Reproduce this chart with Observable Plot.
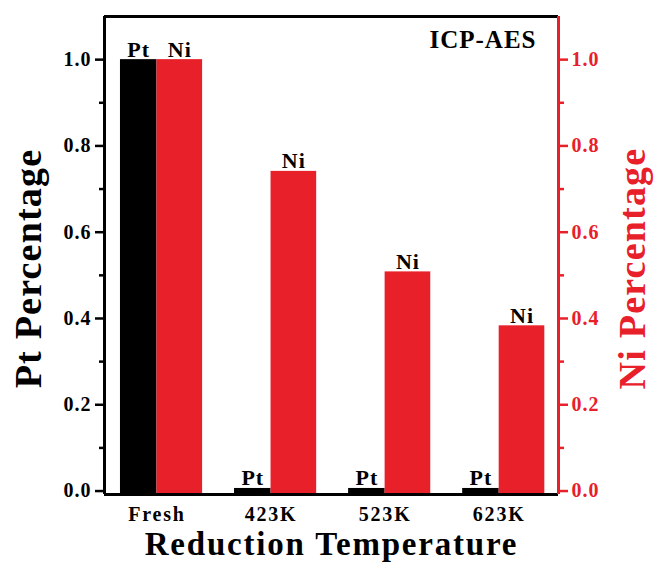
<!DOCTYPE html>
<html>
<head>
<meta charset="utf-8">
<script src="https://cdn.jsdelivr.net/npm/d3@7"></script>
<script src="https://cdn.jsdelivr.net/npm/@observablehq/plot@0.6"></script>
<style>
  html, body { margin: 0; padding: 0; background: #fff; }
  g[aria-label="y-axis tick label"] text { letter-spacing: 1px; }
  g[aria-label="x-axis tick label"] text { letter-spacing: 1.8px; }
  text[aria-label="bar labels"] { letter-spacing: 1px; }
  text[aria-label="axis titles"] { letter-spacing: 1.2px; }
  text[aria-label="x title"] { letter-spacing: 1.8px; }
  text[aria-label="note"] { letter-spacing: 1px; }
</style>
</head>
<body>
<div id="chart"></div>
<script>
// ---- data ----
const categories = ["Fresh", "423K", "523K", "623K"];
const ptValues = [1.0, 0.006, 0.006, 0.006];
const niValues = [1.0, 0.741, 0.508, 0.383];
const majorTicks = [0, 0.2, 0.4, 0.6, 0.8, 1.0];
const minorTicks = [0.1, 0.3, 0.5, 0.7, 0.9];
const seriesLabels = ["Pt", "Ni"];
const leftTitle = "Pt Percentage";
const rightTitle = "Ni Percentage";
const xTitle = "Reduction Temperature";
const note = "ICP-AES";

// ---- styling ----
const red = "#e8202a";
const font = "'Liberation Serif', 'Times New Roman', serif";
const xDomain = [0.54, 4.52];
const yDomain = [-0.008, 1.1];

const rows = categories.map((c, i) => ({cat: c, pos: i + 1, pt: ptValues[i], ni: niValues[i]}));

const chart = Plot.plot({
  width: 654,
  height: 567,
  marginLeft: 104,
  marginRight: 96,
  marginTop: 16,
  marginBottom: 73,
  style: {fontFamily: font, fontWeight: "bold", background: "#fff", color: "#000"},
  x: {type: "linear", domain: xDomain, axis: null},
  y: {domain: yDomain, axis: null},
  marks: [
    // bars
    Plot.rectY(rows, {x1: d => d.pos - 0.32, x2: d => d.pos, y1: yDomain[0], y2: "pt", fill: "#000"}),
    Plot.rectY(rows, {x1: d => d.pos, x2: d => d.pos + 0.40, y1: yDomain[0], y2: "ni", fill: red}),
    // bar labels
    Plot.text(rows, {x: d => d.pos - 0.16, y: "pt", text: () => seriesLabels[0], lineAnchor: "bottom", dy: -3, fontSize: 22, fill: "#000", ariaLabel: () => "bar labels"}),
    Plot.text(rows, {x: d => d.pos + 0.20, y: "ni", text: () => seriesLabels[1], lineAnchor: "bottom", dy: -3, fontSize: 22, fill: "#000", ariaLabel: () => "bar labels"}),
    // left axis
    Plot.axisY({ticks: majorTicks, tickSize: 9, tickPadding: 4, tickFormat: d3.format(".1f"), fontSize: 20, strokeWidth: 2.5, label: null}),
    Plot.axisY({ticks: minorTicks, tickSize: 5, tickFormat: () => "", strokeWidth: 2.5, label: null}),
    // right axis
    Plot.axisY({anchor: "right", ticks: majorTicks, tickSize: 9, tickPadding: 4, tickFormat: d3.format(".1f"), fontSize: 20, strokeWidth: 2.5, color: red, label: null}),
    Plot.axisY({anchor: "right", ticks: minorTicks, tickSize: 5, tickFormat: () => "", strokeWidth: 2.5, color: red, label: null}),
    // x axis
    Plot.axisX({ticks: rows.map(d => d.pos), tickFormat: p => categories[p - 1], tickSize: 0, tickPadding: 12, fontSize: 20, label: null}),
    // frame lines
    Plot.ruleY([yDomain[1]], {stroke: "#000", strokeWidth: 3}),
    Plot.ruleY([yDomain[0]], {stroke: "#000", strokeWidth: 3}),
    Plot.ruleX([xDomain[0]], {stroke: "#000", strokeWidth: 3}),
    Plot.ruleX([xDomain[1]], {stroke: red, strokeWidth: 3}),
    // titles
    Plot.text([leftTitle], {frameAnchor: "left", rotate: -90, textAnchor: "middle", lineAnchor: "middle", dx: -76, dy: 13, fontSize: 38, fill: "#000", ariaLabel: () => "axis titles"}),
    Plot.text([rightTitle], {frameAnchor: "right", rotate: -90, textAnchor: "middle", lineAnchor: "middle", dx: 74, dy: 13, fontSize: 38, fill: red, ariaLabel: () => "axis titles"}),
    Plot.text([xTitle], {frameAnchor: "bottom", textAnchor: "middle", lineAnchor: "middle", dx: 0, dy: 50, fontSize: 33, fill: "#000", ariaLabel: () => "x title"}),
    Plot.text([note], {frameAnchor: "top-right", textAnchor: "end", lineAnchor: "top", dx: -22, dy: 14, fontSize: 25, fill: "#000", ariaLabel: () => "note"})
  ]
});

document.getElementById("chart").appendChild(chart);
</script>
</body>
</html>
